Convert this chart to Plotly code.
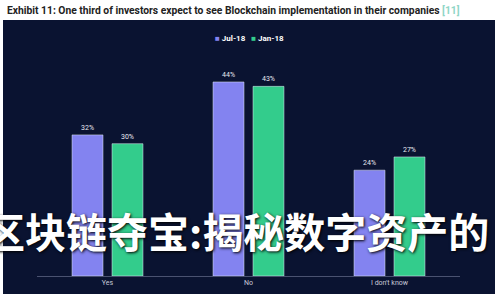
import plotly.graph_objects as go

categories = ["Yes", "No", "I don't know"]
jul18 = [32, 44, 24]
jan18 = [30, 43, 27]
series_names = ["Jul-18", "Jan-18"]
title_text = "Exhibit 11: One third of investors expect to see Blockchain implementation in their companies"
ref_text = "[11]"
overlay_text = "区块链夺宝:揭秘数字资产的"

W, H = 500, 300
L, R, T, B = 37, 40, 60, 24
pw, ph = W - L - R, H - T - B

def px(x):
    return (x - L) / pw

def py(y):
    return (H - B - y) / ph

JUL_C = "#8383f0"
JAN_C = "#33cc8c"
PANEL = "#0a1331"
colors = [JUL_C, JAN_C]

fig = go.Figure()
for name, vals, c in zip(series_names, [jul18, jan18], colors):
    fig.add_trace(go.Bar(x=categories, y=vals, name=name, marker_color=c,
                         texttemplate="%{y}%", textposition="outside",
                         textfont=dict(size=7, color="#e8e8f0"), cliponaxis=False))

fig.add_shape(type="rect", xref="paper", yref="paper", x0=px(3), x1=px(495), y0=py(294), y1=py(20),
              fillcolor=PANEL, line=dict(width=0), layer="below")

fig.add_annotation(xref="paper", yref="paper", x=px(5), y=py(10), xanchor="left", yanchor="middle",
                   text="<b>" + title_text + " <span style='color:#8fd6c6'>" + ref_text + "</span></b>",
                   showarrow=False, font=dict(family="Roboto", size=10.3, color="#222222"))

legend_html = "&nbsp;&nbsp;&nbsp;".join(
    "<span style='color:%s'>■</span>&nbsp;<b>%s</b>" % (c, n) for n, c in zip(series_names, colors))
fig.add_annotation(xref="paper", yref="paper", x=px(250), y=py(38), xanchor="center", yanchor="middle",
                   text=legend_html, showarrow=False,
                   font=dict(family="Roboto", size=8, color="#ffffff"))

fig.add_annotation(xref="paper", yref="paper", x=px(491), y=py(230), xanchor="right", yanchor="middle",
                   text="<b>" + overlay_text + "</b>", showarrow=False,
                   font=dict(family="Noto Sans CJK SC", size=41, color="#ffffff",
                             shadow="1px 1px 3px #000000"))

fig.update_layout(
    width=W, height=H, margin=dict(l=L, r=R, t=T, b=B),
    paper_bgcolor="#ffffff", plot_bgcolor="rgba(0,0,0,0)",
    barmode="group", bargap=0.433, bargroupgap=0.225,
    showlegend=False,
    font=dict(family="Roboto"),
)
fig.update_xaxes(showline=True, linecolor="#4a5270", linewidth=1, ticks="",
                 tickfont=dict(size=7, color="#c8cad8"), showgrid=False)
fig.update_yaxes(range=[0, ph / 4.41], visible=False, showgrid=False)

fig.write_html("out.html")
